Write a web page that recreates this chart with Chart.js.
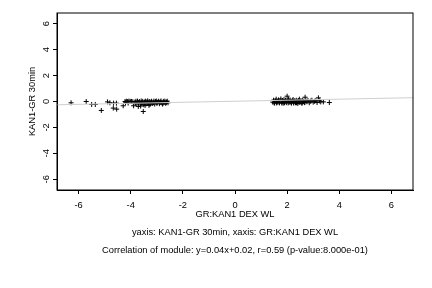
<!DOCTYPE html>
<html>
<head>
<meta charset="utf-8">
<script src="https://cdn.jsdelivr.net/npm/chart.js@4.4.1/dist/chart.umd.min.js"></script>
<style>
  html, body { margin: 0; padding: 0; background: #fff; }
  canvas { display: block; }
</style>
</head>
<body>
<canvas id="corrChart" width="432" height="288"></canvas>
<script>
// left cluster (negative GR:KAN1 values)
const leftX = [-6.29, -5.71, -5.50, -5.36, -5.13, -4.89, -4.80, -4.67, -4.54, -4.66, -4.55, -4.29,
  -4.22, -4.17, -4.12, -4.07, -4.02, -3.97, -4.20, -4.10, -3.89, -3.71, -3.52, -3.62, -3.45, -3.30,
  -3.84, -3.80, -3.77, -3.74, -3.70, -3.67, -3.63, -3.60, -3.57, -3.54, -3.50, -3.47, -3.44, -3.41,
  -3.38, -3.35, -3.32, -3.29, -3.26, -3.23, -3.20, -3.17, -3.14, -3.11, -3.08, -3.05, -3.02, -2.99,
  -2.96, -2.93, -2.90, -2.87, -2.84, -2.81, -2.78, -2.75, -2.72, -2.69, -2.66, -2.63, -2.60, -2.57,
  -3.82, -3.72, -3.58, -3.48, -3.36, -3.24, -3.12, -3.00, -2.88, -2.76, -2.64, -3.92];
const leftY = [-0.10, 0.00, -0.23, -0.23, -0.69, -0.03, -0.10, -0.51, -0.59, -0.13, -0.13, -0.33,
  0.00, 0.02, 0.00, 0.03, 0.01, 0.00, -0.10, -0.12, -0.33, -0.38, -0.77, -0.35, -0.30, -0.30,
  -0.05, 0.02, -0.15, 0.03, -0.10, 0.00, -0.20, 0.04, -0.08, 0.01, -0.25, -0.05, 0.03, -0.18,
  -0.02, 0.05, -0.12, 0.00, -0.22, -0.04, 0.02, -0.15, -0.06, 0.03, -0.20, -0.01, 0.04, -0.12,
  -0.05, 0.02, -0.17, -0.03, 0.04, -0.10, -0.20, 0.01, -0.07, 0.03, -0.14, -0.04, 0.02, -0.10,
  -0.12, -0.08, -0.14, -0.11, -0.09, -0.13, -0.10, -0.12, -0.08, -0.13, -0.09, -0.02];

// right cluster (positive GR:KAN1 values)
const rightX = [1.45, 1.48, 1.52, 1.55, 1.58, 1.61, 1.64, 1.67, 1.70, 1.73, 1.76, 1.79, 1.82, 1.85,
  1.88, 1.91, 1.94, 1.97, 2.00, 2.02, 2.05, 2.08, 2.11, 2.14, 2.17, 2.20, 2.23, 2.26, 2.29, 2.32,
  2.35, 2.38, 2.41, 2.44, 2.47, 2.50, 2.53, 2.56, 2.60, 2.63, 2.66, 2.69, 2.72, 2.76, 2.80, 2.85,
  2.90, 2.95, 3.00, 3.05, 3.10, 3.15, 3.20, 3.24, 3.29, 3.39, 3.62,
  1.50, 1.60, 1.70, 1.80, 1.90, 2.04, 2.15, 2.25, 2.36, 2.46, 2.58, 2.68];
const rightY = [-0.05, 0.10, -0.12, 0.05, 0.18, -0.08, 0.02, 0.12, -0.10, 0.06, 0.20, -0.05, 0.08, -0.13,
  0.15, 0.00, 0.10, -0.09, 0.41, 0.05, 0.18, -0.06, 0.12, 0.02, -0.12, 0.08, 0.15, -0.03, 0.06, -0.10,
  0.10, 0.00, -0.15, 0.07, 0.18, -0.05, 0.04, -0.12, 0.10, 0.00, -0.08, 0.33, 0.05, -0.02, 0.08, -0.10,
  0.03, 0.10, -0.05, 0.02, 0.06, -0.08, 0.28, 0.05, -0.03, -0.03, -0.08,
  -0.10, -0.11, -0.09, -0.12, -0.10, -0.11, -0.09, -0.12, -0.10, -0.08, -0.11, -0.09];

const xTicks = [-6, -4, -2, 0, 2, 4, 6];
const yTicks = [-6, -4, -2, 0, 2, 4, 6];
const axisLimit = 6.83;

// fitted line: y = slope * x + intercept
const slope = 0.04;
const intercept = 0.02;

const xLabel = 'GR:KAN1 DEX WL';
const yLabel = 'KAN1-GR 30min';
const subLines = [
  'yaxis: KAN1-GR 30min, xaxis: GR:KAN1 DEX WL',
  'Correlation of module: y=0.04x+0.02, r=0.59 (p-value:8.000e-01)'
];

const FONT = 'Liberation Sans, Arial, Helvetica, sans-serif';
const FSIZE = 9.3;

const toPoints = (xs, ys) => xs.map((x, i) => ({ x: x, y: ys[i] }));
const points = toPoints(leftX, leftY).concat(toPoints(rightX, rightY));
const fitLine = [-axisLimit, axisLimit].map(x => ({ x: x, y: slope * x + intercept }));

// box round the plot plus the caption lines under the x title
const framePlugin = {
  id: 'frame',
  afterDraw(chart) {
    const { ctx, chartArea: a } = chart;
    ctx.save();
    ctx.strokeStyle = '#000';
    ctx.lineWidth = 1;
    ctx.strokeRect(a.left, a.top, a.right - a.left, a.bottom - a.top);
    ctx.fillStyle = '#000';
    ctx.font = FSIZE + 'px ' + FONT;
    ctx.textAlign = 'center';
    ctx.textBaseline = 'middle';
    const cx = (a.left + a.right) / 2;
    ctx.fillText(subLines[0], cx, 232);
    ctx.fillText(subLines[1], cx, 250);
    ctx.restore();
  }
};

const tickFont = { family: FONT, size: FSIZE };

new Chart(document.getElementById('corrChart').getContext('2d'), {
  type: 'scatter',
  data: {
    datasets: [
      {
        type: 'line',
        data: fitLine,
        borderColor: '#cfcfcf',
        borderWidth: 1,
        pointRadius: 0,
        fill: false
      },
      {
        data: points,
        pointStyle: 'cross',
        pointRadius: 2.5,
        borderColor: '#000',
        backgroundColor: '#000',
        borderWidth: 1
      }
    ]
  },
  options: {
    responsive: false,
    animation: false,
    devicePixelRatio: 1,
    layout: { padding: { left: 0, right: 19, top: 13, bottom: 0 } },
    plugins: { legend: { display: false }, tooltip: { enabled: false } },
    scales: {
      x: {
        type: 'linear',
        min: -axisLimit,
        max: axisLimit,
        afterBuildTicks: s => { s.ticks = xTicks.map(v => ({ value: v })); },
        afterFit: s => { s.height = 98; },
        grid: { drawOnChartArea: false, tickLength: 4, color: '#000' },
        border: { display: true, color: '#000' },
        ticks: { color: '#000', font: tickFont, padding: 6, maxRotation: 0, callback: v => String(v) },
        title: { display: true, text: xLabel, color: '#000', font: tickFont, padding: { top: 0, bottom: 68 } }
      },
      y: {
        type: 'linear',
        min: -axisLimit,
        max: axisLimit,
        afterBuildTicks: s => { s.ticks = yTicks.map(v => ({ value: v })); },
        afterFit: s => { s.width = 57; },
        grid: { drawOnChartArea: false, tickLength: 4, color: '#000' },
        border: { display: true, color: '#000' },
        ticks: { color: '#000', font: tickFont, padding: 2, minRotation: 90, maxRotation: 90, crossAlign: 'center', callback: v => String(v) },
        title: { display: true, text: yLabel, color: '#000', font: tickFont, padding: { top: 27, bottom: 0 } }
      }
    }
  },
  plugins: [framePlugin]
});
</script>
</body>
</html>
